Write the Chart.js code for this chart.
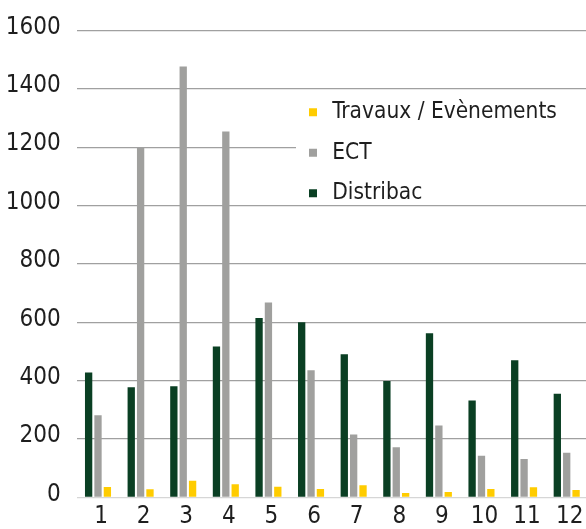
<!DOCTYPE html>
<html>
<head>
<meta charset="utf-8">
<script src="https://cdn.jsdelivr.net/npm/chart.js@4/dist/chart.umd.min.js"></script>
<style>
  html, body { margin: 0; padding: 0; background: #fff; overflow: hidden; }
  #wrap { width: 588px; height: 529px; position: relative; }
</style>
</head>
<body>
<div id="wrap"><canvas id="c"></canvas></div>
<script>
const categories = ['1','2','3','4','5','6','7','8','9','10','11','12'];
const distribac = [428, 378, 381, 517, 615, 600, 491, 399, 563, 332, 470, 355];
const ect       = [282, 1198, 1476, 1254, 668, 436, 216, 172, 247, 143, 132, 153];
const travaux   = [36, 28, 57, 45, 37, 29, 42, 15, 19, 29, 35, 26];
const seriesNames = ['Distribac', 'ECT', 'Travaux / Evènements'];
const yTicks = [0, 200, 400, 600, 800, 1000, 1200, 1400, 1600];

const FONT = "'DejaVu Sans Condensed', 'Liberation Sans', sans-serif";

const legendPlacer = {
  id: 'legendPlacer',
  afterLayout(chart) {
    const lg = chart.legend;
    if (!lg) return;
    lg.left = 287;
    lg.right = 588;
    lg.top = 83;
    lg.bottom = chart.chartArea.bottom;
    lg.width = lg.right - lg.left;
    lg.height = lg.bottom - lg.top;
    if (!lg._wrapped) {
      const orig = lg.draw.bind(lg);
      lg.draw = function () {
        const ctx = chart.ctx;
        ctx.save();
        ctx.fillStyle = '#ffffff';
        ctx.fillRect(296, 92, 292, 110);
        ctx.restore();
        orig();
      };
      lg._wrapped = true;
    }
  }
};

new Chart(document.getElementById('c'), {
  type: 'bar',
  data: {
    labels: categories,
    datasets: [
      { label: seriesNames[0], data: distribac, backgroundColor: '#0a3f23' },
      { label: seriesNames[1], data: ect, backgroundColor: '#a0a09e' },
      { label: seriesNames[2], data: travaux, backgroundColor: '#ffcc00' }
    ]
  },
  options: {
    responsive: true,
    maintainAspectRatio: false,
    animation: false,
    layout: { padding: { top: 30, left: 0, right: 0, bottom: 0 } },
    datasets: {
      bar: { categoryPercentage: 0.66, barPercentage: 0.78, borderWidth: 0 }
    },
    plugins: {
      tooltip: { enabled: false },
      legend: {
        position: 'chartArea',
        align: 'start',
        reverse: true,
        labels: {
          usePointStyle: true,
          pointStyle: 'rect',
          boxWidth: 16,
          boxHeight: 8,
          padding: 18,
          color: '#1e1e1e',
          font: { family: FONT, size: 22.5 }
        }
      }
    },
    scales: {
      x: {
        grid: { display: false, drawTicks: false },
        border: { display: false },
        ticks: {
          color: '#1e1e1e',
          padding: 5,
          labelOffset: 3,
          maxRotation: 0,
          autoSkip: false,
          font: { family: FONT, size: 24 }
        },
        afterFit(scale) { scale.height = 31.5; }
      },
      y: {
        min: 0,
        max: 1600,
        afterBuildTicks(scale) { scale.ticks = yTicks.map(v => ({ value: v })); },
        grid: {
          drawTicks: false,
          lineWidth: 1.3,
          color: (ctx) => ctx.tick && ctx.tick.value === 0 ? '#d6d6d6' : '#a0a0a0'
        },
        border: { display: false },
        ticks: {
          color: '#1e1e1e',
          padding: 16,
          labelOffset: -3,
          font: { family: FONT, size: 24 },
          callback: (v) => String(v)
        },
        afterFit(scale) { scale.width = 76.7; }
      }
    }
  },
  plugins: [legendPlacer]
});
</script>
</body>
</html>
